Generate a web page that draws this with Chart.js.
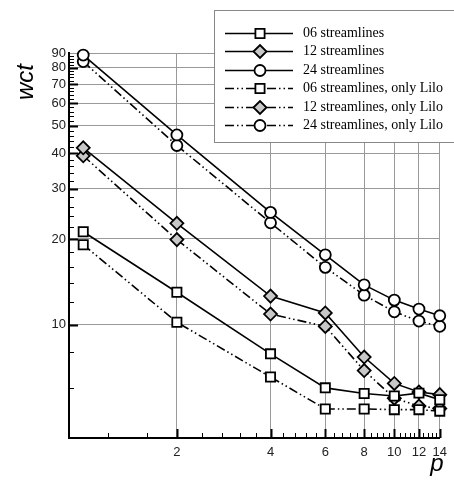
<!DOCTYPE html>
<html>
<head>
<meta charset="utf-8">
<script src="https://cdn.jsdelivr.net/npm/chart.js@4.4.1/dist/chart.umd.min.js"></script>
<style>
  html, body { margin: 0; padding: 0; background: #fff; }
  canvas { display: block; }
</style>
</head>
<body>
<canvas id="grafica" width="454" height="483"></canvas>
<script>
// Datos
const pValues = [1, 2, 4, 6, 8, 10, 12, 14];
const wct06 = [21.2, 13.0, 7.9, 6.0, 5.73, 5.62, 5.75, 5.45];
const wct12 = [41.8, 22.7, 12.6, 11.0, 7.7, 6.22, 5.8, 5.68];
const wct24 = [88.5, 46.4, 24.8, 17.6, 13.8, 12.2, 11.35, 10.75];
const wct06Lilo = [19.1, 10.2, 6.55, 5.06, 5.06, 5.03, 5.03, 4.97];
const wct12Lilo = [39.2, 19.9, 10.9, 9.86, 6.9, 5.52, 5.18, 5.08];
const wct24Lilo = [84, 42.6, 22.8, 15.9, 12.7, 11.1, 10.3, 9.87];

const etiquetas = [
  '06 streamlines', '12 streamlines', '24 streamlines',
  '06 streamlines, only Lilo', '12 streamlines, only Lilo', '24 streamlines, only Lilo'
];

const xMajorTicks = [2, 4, 6, 8, 10, 12, 14];
const yMajorTicks = [10, 20, 30, 40, 50, 60, 70, 80, 90];

// Marcas menores: múltiplos de 0.4 en x, de 2 en y
const xTicks = [];
for (let k = 3; k <= 35; k++) xTicks.push(Math.round(k * 4) / 10);
const yTicks = [];
for (let k = 3; k <= 45; k++) yTicks.push(k * 2);

const puntos = (serie) => pValues.map((p, i) => ({ x: p, y: serie[i] }));

const dashLilo = [9, 3, 1.5, 3, 1.5, 3];

function serie(label, valores, estilo, lilo) {
  const relleno = estilo === 'rectRot' ? '#c8c8c8' : '#fff';
  const radio = estilo === 'circle' ? 5.5 : 6.5;
  return {
    label: label,
    data: puntos(valores),
    borderColor: '#000',
    borderWidth: 1.6,
    borderDash: lilo ? dashLilo : [],
    pointStyle: estilo,
    pointRadius: radio,
    pointBorderWidth: 1.8,
    pointBackgroundColor: relleno,
    pointBorderColor: '#000',
    tension: 0,
    fill: false,
    clip: false
  };
}

const ctx = document.getElementById('grafica').getContext('2d');

// Marcas hacia dentro y títulos de ejes
const marcasInternas = {
  id: 'marcasInternas',
  beforeDatasetsDraw(chart) {
    const c = chart.ctx;
    const xs = chart.scales.x, ys = chart.scales.y;
    const area = chart.chartArea;
    c.save();
    c.strokeStyle = '#000';
    xTicks.forEach(v => {
      const mayor = xMajorTicks.includes(v);
      const px = Math.round(xs.getPixelForValue(v)) + 0.5;
      c.lineWidth = mayor ? 2 : 1;
      c.beginPath();
      c.moveTo(px, area.bottom);
      c.lineTo(px, area.bottom - (mayor ? 9 : 5));
      c.stroke();
    });
    yTicks.forEach(v => {
      if (v >= 90) return;
      const mayor = yMajorTicks.includes(v);
      const py = Math.round(ys.getPixelForValue(v)) + 0.5;
      c.lineWidth = mayor ? 2 : 1;
      c.beginPath();
      c.moveTo(area.left, py);
      c.lineTo(area.left + (mayor ? 9 : 5), py);
      c.stroke();
    });
    c.restore();
  },
  afterDraw(chart) {
    const c = chart.ctx;
    c.save();
    c.fillStyle = '#000';
    c.font = 'italic 24px "Liberation Sans"';
    c.textAlign = 'center';
    c.textBaseline = 'middle';
    c.translate(26, 82);
    c.rotate(-Math.PI / 2);
    c.fillText('wct', 0, 0);
    c.restore();

    c.save();
    c.fillStyle = '#000';
    c.font = 'italic 24px "Liberation Sans"';
    c.textAlign = 'center';
    c.textBaseline = 'alphabetic';
    c.fillText('p', 437, 471);
    c.restore();
  }
};

// Leyenda dibujada a mano con los estilos de cada serie
const leyenda = {
  id: 'leyendaCaja',
  afterDraw(chart) {
    const c = chart.ctx;
    c.save();
    c.fillStyle = '#fff';
    c.strokeStyle = '#888';
    c.lineWidth = 1;
    c.fillRect(214, 10, 260, 132);
    c.strokeRect(214.5, 10.5, 260, 132);
    chart.data.datasets.forEach((ds, i) => {
      const y = Math.round(33 + i * 18.4) + 0.5;
      c.strokeStyle = '#000';
      c.lineWidth = ds.borderWidth;
      c.setLineDash(ds.borderDash);
      c.beginPath();
      c.moveTo(225, y);
      c.lineTo(293, y);
      c.stroke();
      c.setLineDash([]);
      c.fillStyle = ds.pointBackgroundColor;
      c.strokeStyle = '#000';
      c.lineWidth = ds.pointBorderWidth;
      Chart.helpers.drawPoint(c, {
        pointStyle: ds.pointStyle,
        radius: ds.pointRadius,
        rotation: 0,
        borderWidth: ds.pointBorderWidth
      }, 260, y);
      c.fillStyle = '#000';
      c.font = '14px "Liberation Serif"';
      c.textAlign = 'left';
      c.textBaseline = 'middle';
      c.fillText(ds.label, 303, y);
    });
    c.restore();
  }
};

Chart.defaults.font.family = '"Liberation Sans", sans-serif';
Chart.defaults.font.size = 13;
Chart.defaults.color = '#222';

const grafica = new Chart(ctx, {
  type: 'line',
  data: {
    datasets: [
      serie(etiquetas[0], wct06, 'rect', false),
      serie(etiquetas[1], wct12, 'rectRot', false),
      serie(etiquetas[2], wct24, 'circle', false),
      serie(etiquetas[3], wct06Lilo, 'rect', true),
      serie(etiquetas[4], wct12Lilo, 'rectRot', true),
      serie(etiquetas[5], wct24Lilo, 'circle', true)
    ]
  },
  options: {
    responsive: false,
    animation: false,
    devicePixelRatio: 1,
    layout: { padding: { top: 53, right: 11, left: 0, bottom: 0 } },
    plugins: {
      legend: { display: false },
      tooltip: { enabled: false }
    },
    scales: {
      x: {
        type: 'logarithmic',
        min: 0.9,
        max: 14,
        afterBuildTicks: (scale) => { scale.ticks = xTicks.map(v => ({ value: v })); },
        afterFit: (scale) => { scale.height = 45; },
        grid: {
          drawTicks: false,
          color: (c) => (c.tick && xMajorTicks.includes(c.tick.value)) ? '#999' : 'rgba(0,0,0,0)',
          lineWidth: 1
        },
        border: { color: '#000', width: 2 },
        ticks: {
          autoSkip: false,
          maxRotation: 0,
          padding: 7,
          callback: (v) => xMajorTicks.includes(v) ? String(v) : ''
        }
      },
      y: {
        type: 'logarithmic',
        min: 4,
        max: 90,
        afterBuildTicks: (scale) => { scale.ticks = yTicks.map(v => ({ value: v })); },
        afterFit: (scale) => { scale.width = 69; },
        grid: {
          drawTicks: false,
          color: (c) => (c.tick && yMajorTicks.includes(c.tick.value)) ? '#999' : 'rgba(0,0,0,0)',
          lineWidth: 1
        },
        border: { color: '#000', width: 2 },
        ticks: {
          autoSkip: false,
          padding: 3,
          callback: (v) => yMajorTicks.includes(v) ? String(v) : ''
        }
      }
    }
  },
  plugins: [marcasInternas, leyenda]
});
</script>
</body>
</html>
